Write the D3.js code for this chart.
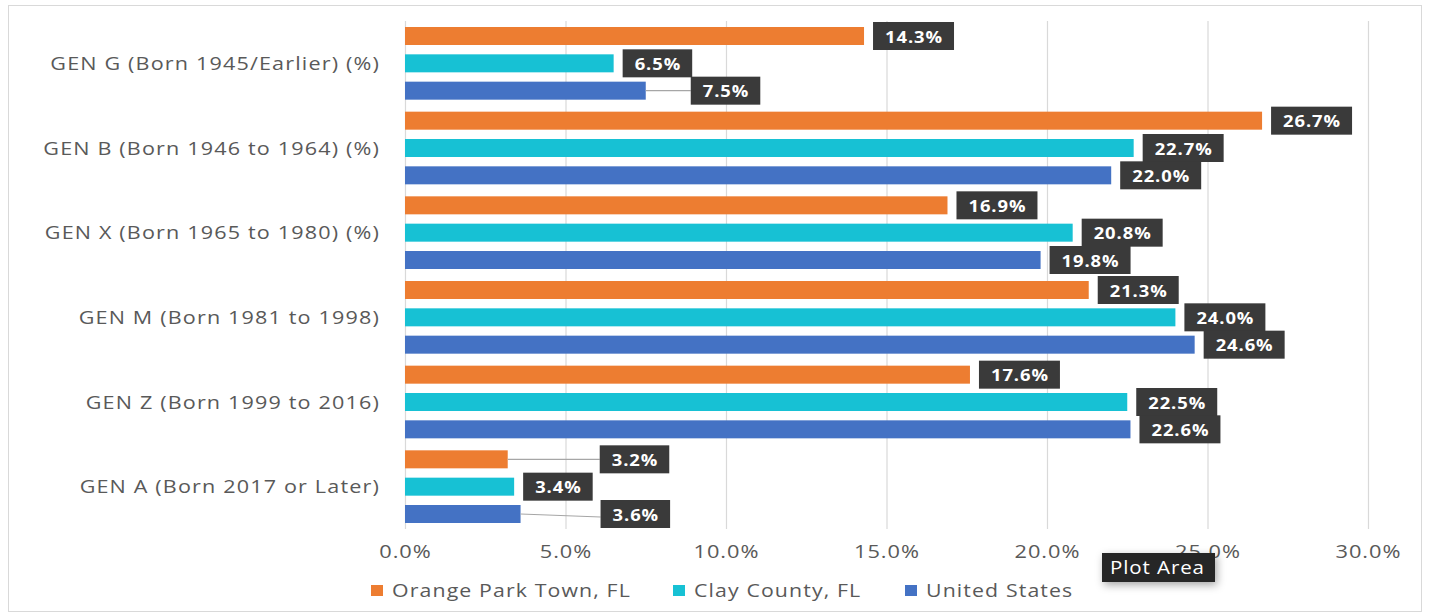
<!DOCTYPE html>
<html>
<head>
<meta charset="utf-8">
<script src="https://cdn.jsdelivr.net/npm/d3@7"></script>
<style>
  html, body { margin: 0; padding: 0; background: #ffffff; }
  svg { display: block; }
  text { font-family: "Open Sans", "DejaVu Sans", sans-serif; }
</style>
</head>
<body>
<svg id="chart" width="1429" height="614"></svg>
<script>
// ---------- data ----------
const categories = [
  "GEN G (Born 1945/Earlier) (%)",
  "GEN B (Born 1946 to 1964) (%)",
  "GEN X (Born 1965 to 1980) (%)",
  "GEN M (Born 1981 to 1998)",
  "GEN Z (Born 1999 to 2016)",
  "GEN A (Born 2017 or Later)"
];
const seriesNames = ["Orange Park Town, FL", "Clay County, FL", "United States"];
const orangePark = [14.3, 26.7, 16.9, 21.3, 17.6, 3.2];
const clayCounty = [6.5, 22.7, 20.8, 24.0, 22.5, 3.4];
const unitedStates = [7.5, 22.0, 19.8, 24.6, 22.6, 3.6];
const xTicks = [0, 5, 10, 15, 20, 25, 30];

// ---------- style / layout ----------
const colors = ["#ED7D31", "#17C1D4", "#4472C4"];
const seriesValues = [orangePark, clayCounty, unitedStates];
// manual nudges of a few data labels (series index-category index) -> extra px
const labelNudge = { "2-0": 36, "0-5": 83, "2-5": 71 };

// stretch texts horizontally (about their anchor x) so a reference text reaches a target width
function fitScale(sel, refNode, target) {
  const w = refNode.getComputedTextLength();
  const s = target / w;
  sel.each(function () {
    const ax = +(this.getAttribute("x") || 0);
    d3.select(this).attr("transform", `translate(${ax},0) scale(${s},1) translate(${-ax},0)`);
  });
  return s;
}

const svg = d3.select("#chart");

// chart border
svg.append("rect").attr("x", 8.5).attr("y", 5.5).attr("width", 1413).attr("height", 606)
  .attr("fill", "#fff").attr("stroke", "#d9d9d9").attr("stroke-width", 1);

const x = d3.scaleLinear().domain([0, 30]).range([405, 1368]);
const y = d3.scaleBand().domain(categories).range([21, 529]).padding(0);
const inner = d3.scaleBand().domain(seriesNames).range([-41, 41]).padding(0);
const barH = 18;

// gridlines
svg.append("g").selectAll("line").data(xTicks).join("line")
  .attr("x1", d => x(d) + 0.5).attr("x2", d => x(d) + 0.5)
  .attr("y1", 21).attr("y2", 529)
  .attr("stroke", "#d9d9d9").attr("stroke-width", 1.2);

// x axis tick labels
const xAxis = d3.axisBottom(x).tickValues(xTicks).tickSize(0).tickPadding(0)
  .tickFormat(d => d3.format(".1f")(d) + "%");
const gx = svg.append("g").attr("transform", "translate(0,545)").call(xAxis);
gx.select(".domain").remove();
const xt = gx.selectAll("text").attr("fill", "#595959").attr("font-size", 18)
  .attr("font-family", "'Open Sans', sans-serif").attr("letter-spacing", 0.8);
fitScale(xt, xt.filter(d => d === 10).node(), 66);

// y axis category labels
const yAxis = d3.axisLeft(y).tickSize(0).tickPadding(0);
const gy = svg.append("g").attr("transform", "translate(380,0)").call(yAxis);
gy.select(".domain").remove();
const yt = gy.selectAll("text").attr("fill", "#595959").attr("font-size", 18.5)
  .attr("font-family", "'Open Sans', sans-serif").attr("dy", "0.36em")
  .attr("letter-spacing", 1);
fitScale(yt, yt.filter(d => d === categories[0]).node(), 330);

// bars
const barData = [];
seriesNames.forEach((s, si) => {
  categories.forEach((c, ci) => {
    barData.push({ s, si, c, ci, v: seriesValues[si][ci] });
  });
});
const cy = d => y(d.c) + y.bandwidth() / 2 + inner(d.s) + inner.bandwidth() / 2;

svg.append("g").selectAll("rect").data(barData).join("rect")
  .attr("x", x(0)).attr("y", d => cy(d) - barH / 2)
  .attr("width", d => x(d.v) - x(0)).attr("height", barH)
  .attr("fill", d => colors[d.si]);

// data labels
const lbl = svg.append("g");
const groups = [];
barData.forEach(d => {
  const nudge = labelNudge[d.si + "-" + d.ci] || 0;
  const bx = x(d.v) + 9 + nudge;
  const t = d3.format(".1f")(d.v) + "%";
  const g = lbl.append("g");
  if (nudge) {
    g.append("line").attr("x1", x(d.v)).attr("y1", cy(d))
      .attr("x2", bx).attr("y2", cy(d) + (d.si === 2 && d.ci === 5 ? 3 : 0))
      .attr("stroke", "#a6a6a6").attr("stroke-width", 1.2);
  }
  const rect = g.append("rect").attr("fill", "#3a3a3a");
  const pad = 12;
  const tx = g.append("text").attr("class", "dl").attr("x", bx + pad).attr("y", cy(d) + 1)
    .attr("dy", "0.36em").attr("fill", "#fff").attr("font-size", 16)
    .attr("font-weight", 700).attr("letter-spacing", 0.8)
    .attr("font-family", "'Open Sans', sans-serif")
    .text(t);
  groups.push({ d, bx, rect, tx, pad });
});
const dls = lbl.selectAll("text.dl");
const dlRef = dls.filter(function () { return this.textContent === "14.3%"; }).node();
const dlScale = fitScale(dls, dlRef, 58);
groups.forEach(({ d, bx, rect, tx, pad }) => {
  const w = tx.node().getComputedTextLength() * dlScale;
  rect.attr("x", bx).attr("y", cy(d) - 14).attr("width", w + pad * 2 - 1).attr("height", 28);
});

// legend
const legendX = [371, 673, 905];
const lg = svg.append("g");
const legTexts = [];
seriesNames.forEach((s, i) => {
  lg.append("rect").attr("x", legendX[i]).attr("y", 585).attr("width", 12).attr("height", 11)
    .attr("fill", colors[i]);
  legTexts.push(lg.append("text").attr("class", "lt").attr("x", legendX[i] + 21).attr("y", 590.5)
    .attr("dy", "0.36em").attr("fill", "#595959").attr("font-size", 19)
    .attr("letter-spacing", 1)
    .text(s).node());
});
fitScale(lg.selectAll("text.lt"), legTexts[0], 239);

// tooltip overlay
const defs = svg.append("defs");
const f = defs.append("filter").attr("id", "sh").attr("x", "-30%").attr("y", "-50%")
  .attr("width", "160%").attr("height", "220%");
f.append("feDropShadow").attr("dx", 2).attr("dy", 3).attr("stdDeviation", 4)
  .attr("flood-color", "#000").attr("flood-opacity", 0.35);
svg.append("rect").attr("x", 1102).attr("y", 553).attr("width", 113).attr("height", 29)
  .attr("fill", "#262626").attr("filter", "url(#sh)");
const tip = svg.append("text").attr("x", 1110).attr("y", 567.5).attr("dy", "0.36em")
  .attr("fill", "#fff").attr("font-size", 18).attr("letter-spacing", 0.8).text("Plot Area");
fitScale(tip, tip.node(), 95);
</script>
</body>
</html>
